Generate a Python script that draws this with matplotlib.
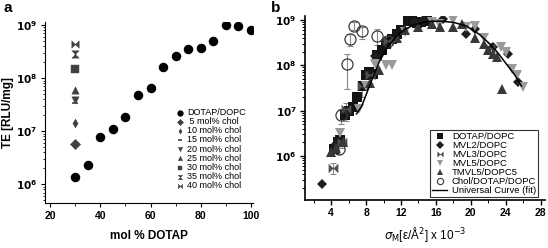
import matplotlib
matplotlib.use('Agg')
import matplotlib.pyplot as plt
from matplotlib.lines import Line2D
from matplotlib.ticker import FixedLocator, FixedFormatter, LogLocator, NullFormatter

plt.rcParams['font.family'] = ['Liberation Sans', 'DejaVu Sans']

# ---- panel a data ----
dotap_x = [30, 35, 40, 45, 50, 55, 60, 65, 70, 75, 80, 85, 90, 95, 100]
dotap_y = [1.36e6, 2.26e6, 7.8e6, 1.09e7, 1.85e7, 4.7e7, 6.4e7, 1.65e8,
           2.55e8, 3.5e8, 3.65e8, 5.0e8, 1.0e9, 9.5e8, 8.0e8]
chol_labels = [' 5 mol% chol', '10 mol% chol', '15 mol% chol', '20 mol% chol',
               '25 mol% chol', '30 mol% chol', '35 mol% chol', '40 mol% chol']
chol_y = [5.7e6, 1.4e7, 3.4e7, 3.9e7, 6.0e7, 1.46e8, 2.9e8, 4.4e8]
chol_markers = ['D', 'd', '_', 'v', '^', 's', 'hourglass', 'bowtie']
chol_x = 30

# ---- panel b data ----
sq_x = [4.3, 4.8, 5.0, 5.6, 6.0, 6.5, 7.0, 7.6, 8.0, 8.3, 8.8, 9.3, 9.8, 10.3,
        11.0, 11.5, 12.0, 12.8, 13.3, 13.8, 14.3, 15.0]
sq_y = [1.4e6, 2e6, 2.3e6, 8e6, 1.0e7, 1.2e7, 2e7, 3.5e7, 6e7, 7e7, 6.5e7,
        1.7e8, 2.2e8, 3e8, 3.8e8, 5e8, 6e8, 9.5e8, 1.0e9, 8.5e8, 9e8, 9.5e8]
dia_x = [2.9, 4.6, 5.8, 8.2, 9.0, 10.2, 13.5, 14.5, 16.8, 19.5, 20.5, 22.5, 24.3, 25.4]
dia_y = [2.4e5, 1.8e6, 1.0e7, 6.5e7, 1.6e8, 3.5e8, 9e8, 1.0e9, 1.05e9, 5e8,
         6.5e8, 2.5e8, 1.8e8, 4.4e7]
bow_x = [4.2, 5.2, 5.7, 7.5, 8.5, 10.5, 22.2]
bow_y = [5.5e5, 2e6, 1.1e7, 3.5e7, 6e7, 3.5e8, 2.4e8]
bow_lo = [4e5, 1.5e6, 6e6, 2e7, 4e7, 2.5e8, 1.8e8]
bow_hi = [7e5, 2.6e6, 1.5e7, 4.5e7, 8e7, 4.5e8, 3.2e8]
tri_dn_x = [5.0, 7.2, 8.0, 9.0, 10.3, 11.0, 12.5, 15.5, 16.3, 18.0, 19.5, 20.5,
            21.5, 23.5, 24.0, 24.7, 25.3, 26.0]
tri_dn_y = [3.2e6, 1.1e7, 3.5e7, 1.1e8, 1.0e8, 1.0e8, 5.5e8, 9e8, 8e8, 1.0e9,
            7e8, 7.5e8, 4e8, 2.5e8, 2e8, 8.5e7, 6.2e7, 3.3e7]
tri_up_x = [4.0, 4.5, 5.3, 8.5, 9.5, 11.5, 12.5, 14.0, 15.5, 16.5, 18.0, 19.0,
            20.5, 21.5, 22.0, 22.5, 23.0, 23.6]
tri_up_y = [1.2e6, 1.5e6, 2e6, 4e7, 8e7, 4e8, 6e8, 7e8, 8e8, 7e8, 7e8, 8e8,
            4e8, 3e8, 2.2e8, 1.8e8, 1.5e8, 3e7]
circ_x = [4.9, 5.1, 5.8, 6.1, 6.6, 7.5, 9.2, 10.5]
circ_y = [1.4e6, 8e6, 1.05e8, 3.9e8, 7.5e8, 5.7e8, 4.5e8, 3.5e8]
circ_lo = [1.1e6, 5e6, 3e7, 2.7e8, 6e8, 3.8e8, 2.8e8, 2.6e8]
circ_hi = [1.8e6, 1.1e7, 1.8e8, 5e8, 9e8, 7e8, 6.5e8, 4.5e8]
curve_x = [6.9, 7.5, 8.5, 9.5, 10.5, 11.5, 12.5, 13.5, 15, 16.5, 18, 19.5, 21,
           22, 23, 24, 25, 25.8]
curve_y = [8.5e6, 1.26e7, 4e7, 1.2e8, 2.6e8, 4.5e8, 6.3e8, 7.9e8, 9.3e8, 9.5e8,
           8.9e8, 7.4e8, 4.8e8, 3.2e8, 2.0e8, 1.12e8, 6.3e7, 3.5e7]

ytick_vals = [1e6, 1e7, 1e8, 1e9]
ytick_labels = [r'$\mathbf{10^{6}}$', r'$\mathbf{10^{7}}$', r'$\mathbf{10^{8}}$', r'$\mathbf{10^{9}}$']

fig = plt.figure(figsize=(5.48, 2.48), dpi=100)

# ---------- panel a ----------
ax = fig.add_axes([45/548, 45/248, 208/548, 181/248])
ax.scatter(dotap_x, dotap_y, s=34, marker='o', color='black', label='DOTAP/DOPC', zorder=3)
for lab, yv, mk in zip(chol_labels, chol_y, chol_markers):
    if mk == 'hourglass':
        m = [(-1, 1), (1, 1), (0.15, 0.15), (0.15, -0.15), (1, -1), (-1, -1),
             (-0.15, -0.15), (-0.15, 0.15), (-1, 1)]
    elif mk == 'bowtie':
        m = [(-1, -1), (-1, 1), (-0.15, 0.15), (0.15, 0.15), (1, 1), (1, -1),
             (0.15, -0.15), (-0.15, -0.15), (-1, -1)]
    else:
        m = mk
    size = 28 if mk not in ('d', '_') else 20
    ax.scatter([chol_x], [yv], s=size, marker=m, color='#404040',
               linewidths=1.2 if mk == '_' else 0.3, label=lab, zorder=3)
ax.set_yscale('log')
ax.set_xlim(18, 100.8)
ax.set_ylim(10**5.648, 10**9.056)
ax.set_xticks([20, 40, 60, 80, 100])
ax.set_xticks([30, 50, 70, 90], minor=True)
ax.yaxis.set_major_locator(FixedLocator(ytick_vals))
ax.yaxis.set_major_formatter(FixedFormatter(ytick_labels))
ax.yaxis.set_minor_locator(LogLocator(base=10, subs=range(2, 10)))
ax.yaxis.set_minor_formatter(NullFormatter())
for s in ['top', 'right']:
    ax.spines[s].set_visible(False)
ax.tick_params(labelsize=7.5, width=0.8, length=3, pad=2.5)
ax.tick_params(which='minor', length=1.8, width=0.6)
for t in ax.get_xticklabels():
    t.set_fontweight('bold')
ax.set_xlabel('mol % DOTAP', fontsize=8.5, fontweight='bold', labelpad=7)
ax.set_ylabel('TE [RLU/mg]', fontsize=8.5, fontweight='bold')
ax.yaxis.set_label_coords(-0.15, 0.5)
ax.legend(loc='lower right', bbox_to_anchor=(0.995, 0.035), frameon=False, fontsize=6.5,
          handletextpad=0.3, labelspacing=0.02, handlelength=1.0, borderpad=0.2,
          markerscale=0.6)
fig.text(3/548, 1 - 12/248, 'a', fontsize=11, fontweight='bold')

# ---------- panel b ----------
bx = fig.add_axes([305/548, 48/248, 240/548, 184/248])
err_kw = dict(fmt='none', ecolor='#8a8a8a', elinewidth=0.8, capsize=2.2, capthick=0.8, zorder=2)
bx.errorbar(bow_x, bow_y, yerr=[[a - b for a, b in zip(bow_y, bow_lo)],
                                [b - a for a, b in zip(bow_y, bow_hi)]], **err_kw)
bx.errorbar(circ_x, circ_y, yerr=[[a - b for a, b in zip(circ_y, circ_lo)],
                                  [b - a for a, b in zip(circ_y, circ_hi)]], **err_kw)
bx.plot(sq_x, sq_y, 's', color='#141414', ms=6.5, mew=0, zorder=3)
bx.plot(dia_x, dia_y, 'D', color='#1e1e1e', ms=5.5, mew=0, zorder=3)
bowtie = [(-1, -1), (-1, 1), (-0.15, 0.15), (0.15, 0.15), (1, 1), (1, -1),
          (0.15, -0.15), (-0.15, -0.15), (-1, -1)]
bx.plot(bow_x, bow_y, linestyle='none', marker=bowtie, color='#505050', ms=7, mew=0, zorder=3)
bx.plot(tri_dn_x, tri_dn_y, 'v', color='#9a9a9a', ms=7.5, mew=0, zorder=3)
bx.plot(tri_up_x, tri_up_y, '^', color='#383838', ms=7.5, mew=0, zorder=3)
bx.plot(circ_x, circ_y, 'o', mfc='none', mec='#3a3a3a', ms=8, mew=0.9, zorder=4)
bx.plot(curve_x, curve_y, '-', color='black', lw=1.1, zorder=5)
bx.set_yscale('log')
bx.set_xlim(1, 28.5)
bx.set_ylim(10**5.03, 10**9.09)
bx.set_xticks([4, 8, 12, 16, 20, 24, 28])
bx.set_xticks([2, 6, 10, 14, 18, 22, 26], minor=True)
bx.yaxis.set_major_locator(FixedLocator(ytick_vals))
bx.yaxis.set_major_formatter(FixedFormatter(ytick_labels))
bx.yaxis.set_minor_locator(LogLocator(base=10, subs=range(2, 10)))
bx.yaxis.set_minor_formatter(NullFormatter())
for s in ['top', 'right']:
    bx.spines[s].set_visible(False)
bx.spines['left'].set_linewidth(1.2)
bx.spines['bottom'].set_linewidth(1.2)
bx.tick_params(labelsize=7.5, width=1.0, length=3.5, pad=2.5)
bx.tick_params(which='minor', length=2, width=0.7)
for t in bx.get_xticklabels():
    t.set_fontweight('bold')
bx.set_xlabel(r'$\sigma_{\mathrm{M}}$[ε/Å$^{2}$] x 10$^{-3}$', fontsize=8.5, labelpad=5)

handles = [
    Line2D([], [], ls='none', marker='s', color='#141414', ms=4.5, mew=0),
    Line2D([], [], ls='none', marker='D', color='#1e1e1e', ms=3.8, mew=0),
    Line2D([], [], ls='none', marker=bowtie, color='#505050', ms=4.5, mew=0),
    Line2D([], [], ls='none', marker='v', color='#9a9a9a', ms=5, mew=0),
    Line2D([], [], ls='none', marker='^', color='#383838', ms=5, mew=0),
    Line2D([], [], ls='none', marker='o', mfc='none', mec='#3a3a3a', ms=4.5, mew=0.8),
    Line2D([], [], color='black', lw=1.0),
]
labels = ['DOTAP/DOPC', 'MVL2/DOPC', 'MVL3/DOPC', 'MVL5/DOPC', 'TMVL5/DOPC5',
          'Chol/DOTAP/DOPC', 'Universal Curve (fit)']
leg = bx.legend(handles, labels, loc='lower right', bbox_to_anchor=(0.975, 0.01),
                fontsize=6.8, frameon=True, fancybox=False, edgecolor='black',
                handletextpad=0.5, labelspacing=0.0, handlelength=1.6, borderpad=0.2,
                borderaxespad=0.1)
leg.get_frame().set_linewidth(0.8)
fig.text(271/548, 1 - 12/248, 'b', fontsize=11, fontweight='bold')

fig.savefig('out.png', dpi=100)
